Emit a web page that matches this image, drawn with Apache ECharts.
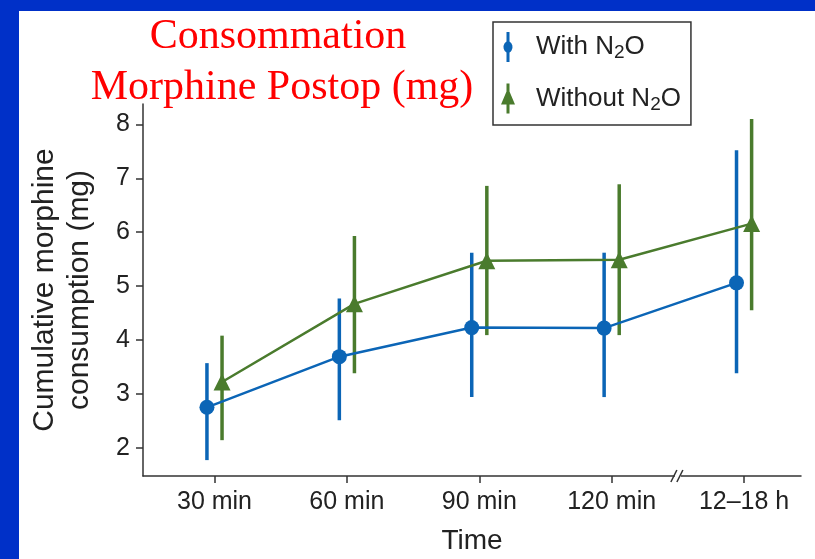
<!DOCTYPE html>
<html>
<head>
<meta charset="utf-8">
<script src="https://cdn.jsdelivr.net/npm/echarts@6/dist/echarts.min.js"></script>
<style>
  html, body { margin: 0; padding: 0; background: #fff; }
  #chart { width: 815px; height: 559px; }
</style>
</head>
<body>
<div id="chart"></div>
<script>
// time points (x axis categories)
const categories = ['30 min', '60 min', '90 min', '120 min', '12\u201318 h'];
const yTicks = [2, 3, 4, 5, 6, 7, 8];

// With N2O : mean and error bar ends
const withMean = [2.75, 3.69, 4.23, 4.22, 5.06];
const withLow  = [1.77, 2.51, 2.94, 2.94, 3.38];
const withHigh = [3.57, 4.77, 5.62, 5.62, 7.52];

// Without N2O
const withoutMean = [3.22, 4.67, 5.47, 5.49, 6.16];
const withoutLow  = [2.14, 3.38, 4.09, 4.09, 4.55];
const withoutHigh = [4.08, 5.93, 6.86, 6.89, 8.10];

const BLUE = '#0b65b6';
const GREEN = '#4a7b2d';
const FONT = 'Liberation Sans, Arial, sans-serif';
const shift = 0.057; // side offset of the two groups

var chart = echarts.init(document.getElementById('chart'));

function pts(means, dx) {
  return means.map((v, i) => [i + dx, v]);
}
function bars(lows, highs, dx) {
  return lows.map((v, i) => [i + dx, v, highs[i]]);
}
function errorBar(color) {
  return function (params, api) {
    let top = api.coord([api.value(0), api.value(2)]);
    let bottom = api.coord([api.value(0), api.value(1)]);
    return {
      type: 'line',
      shape: { x1: top[0], y1: top[1], x2: bottom[0], y2: bottom[1] },
      style: { stroke: color, lineWidth: 3.5 }
    };
  };
}

const iconWith = 'path://M8.5,0H11.5V9.5A6.5,6.5 0 0 1 11.5,20.5V30H8.5V20.5A6.5,6.5 0 0 1 8.5,9.5Z';
const iconWithout = 'path://M8.5,0H11.5V8L17,21H11.5V30H8.5V21H3L8.5,8Z';

var option = {
  animation: false,
  backgroundColor: '#fff',
  grid: { left: 143, right: 14, top: 104, bottom: 83, outerBoundsMode: 'none', containLabel: false },
  legend: {
    orient: 'vertical',
    left: 493,
    top: 22,
    padding: [10, 10, 11, 8],
    itemGap: 21,
    itemWidth: 24,
    itemHeight: 30,
    borderColor: '#333',
    borderWidth: 1.5,
    backgroundColor: '#fff',
    data: [
      { name: 'With N2O', icon: iconWith, itemStyle: { color: BLUE } },
      { name: 'Without N2O', icon: iconWithout, itemStyle: { color: GREEN } }
    ],
    formatter: name => name.replace('2', '{sub|2}'),
    textStyle: {
      fontFamily: FONT,
      fontSize: 26,
      color: '#222',
      padding: [0, 0, 0, 11],
      rich: {
        sub: { fontFamily: FONT, fontSize: 19, color: '#222', padding: [12, 0, 0, 0] }
      }
    }
  },
  xAxis: {
    type: 'value',
    min: -0.54,
    max: 4.43,
    name: 'Time',
    nameLocation: 'middle',
    nameGap: 51,
    nameTextStyle: { fontFamily: FONT, fontSize: 28, color: '#222' },
    splitLine: { show: false },
    axisLine: { onZero: false, lineStyle: { color: '#333', width: 1.5 } },
    axisTick: { customValues: [0, 1, 2, 3, 4], length: 7, lineStyle: { color: '#333', width: 1.5 } },
    axisLabel: {
      customValues: [0, 1, 2, 3, 4],
      formatter: v => categories[Math.round(v)],
      fontFamily: FONT,
      fontSize: 25,
      color: '#222',
      margin: 14
    }
  },
  yAxis: {
    type: 'value',
    min: 1.475,
    max: 8.38,
    name: 'Cumulative morphine\nconsumption (mg)',
    nameLocation: 'middle',
    nameGap: 46,
    nameTextStyle: { fontFamily: FONT, fontSize: 30, color: '#222', lineHeight: 35 },
    splitLine: { show: false },
    axisLine: { show: true, onZero: false, lineStyle: { color: '#333', width: 1.5 } },
    axisTick: { show: true, customValues: yTicks, length: 7, lineStyle: { color: '#333', width: 1.5 } },
    axisLabel: {
      customValues: yTicks,
      fontFamily: FONT,
      fontSize: 25,
      color: '#222',
      margin: 13
    }
  },
  series: [
    {
      name: 'With N2O',
      type: 'custom',
      renderItem: errorBar(BLUE),
      itemStyle: { color: BLUE },
      data: bars(withLow, withHigh, -shift),
      z: 2
    },
    {
      name: 'Without N2O',
      type: 'custom',
      renderItem: errorBar(GREEN),
      itemStyle: { color: GREEN },
      data: bars(withoutLow, withoutHigh, shift),
      z: 2
    },
    {
      name: 'With N2O',
      type: 'line',
      data: pts(withMean, -shift),
      symbol: 'circle',
      symbolSize: 15,
      itemStyle: { color: BLUE },
      lineStyle: { color: BLUE, width: 2.5 },
      z: 3
    },
    {
      name: 'Without N2O',
      type: 'line',
      data: pts(withoutMean, shift),
      symbol: 'triangle',
      symbolSize: 17,
      itemStyle: { color: GREEN },
      lineStyle: { color: GREEN, width: 2.5 },
      z: 3
    }
  ]
};
chart.setOption(option);

// axis break marks, blue frame and red heading
let bp = chart.convertToPixel({ gridIndex: 0 }, [3.5, 1.475]);
chart.setOption({
  graphic: [
    { type: 'rect', shape: { x: 0, y: 0, width: 815, height: 11 }, style: { fill: '#0030c8' }, z: 100 },
    { type: 'rect', shape: { x: 0, y: 0, width: 19, height: 559 }, style: { fill: '#0030c8' }, z: 100 },
    { type: 'rect', shape: { x: bp[0] - 3, y: bp[1] - 3, width: 6, height: 6 }, style: { fill: '#fff' }, z: 50 },
    { type: 'line', shape: { x1: bp[0] - 7, y1: bp[1] + 6, x2: bp[0] - 1, y2: bp[1] - 6 }, style: { stroke: '#333', lineWidth: 1.5 }, z: 51 },
    { type: 'line', shape: { x1: bp[0] - 1, y1: bp[1] + 6, x2: bp[0] + 5, y2: bp[1] - 6 }, style: { stroke: '#333', lineWidth: 1.5 }, z: 51 },
    {
      type: 'text', x: 278, y: 37, z: 60,
      style: { text: 'Consommation', fill: '#ff0000', font: '42px "Liberation Serif", "Times New Roman", serif', align: 'center', verticalAlign: 'middle' }
    },
    {
      type: 'text', x: 282, y: 88, z: 60,
      style: { text: 'Morphine Postop (mg)', fill: '#ff0000', font: '42px "Liberation Serif", "Times New Roman", serif', align: 'center', verticalAlign: 'middle' }
    }
  ]
});
</script>
</body>
</html>
